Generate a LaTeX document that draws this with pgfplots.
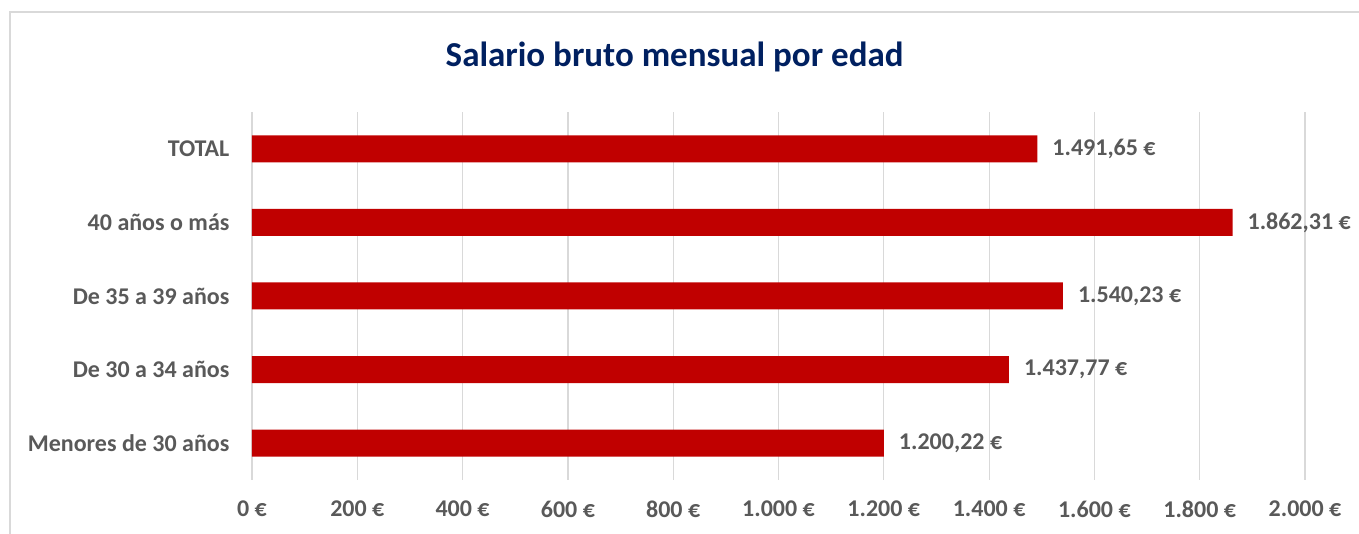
\documentclass[border=0pt]{standalone}
\usepackage{fontspec}
\setmainfont{Carlito}
\usepackage{pgfplots}
\pgfplotsset{compat=1.18}
\definecolor{barred}{HTML}{C00000}
\definecolor{lblgray}{HTML}{595959}
\definecolor{titleblue}{HTML}{002060}
\definecolor{gridgray}{HTML}{D9D9D9}

\begin{document}
\begin{tikzpicture}
\useasboundingbox (0,0) rectangle (679.5pt,267pt);
% chart frame (cut at right and bottom in the reference)
\draw[gridgray, line width=0.6pt] (5pt,0) -- (5pt,261pt) -- (679.5pt,261pt);
\node[font=\bfseries\fontsize{17.5}{21}\selectfont, text=titleblue] at (337.3pt,238.5pt) {Salario bruto mensual por edad};
\begin{axis}[
  scale only axis,
  width=526.5pt, height=184pt,
  at={(126pt,27pt)}, anchor=south west,
  xbar, bar width=13.5pt,
  xmin=0, xmax=2000,
  ymin=-0.5, ymax=4.5,
  xtick={0,200,...,2000},
  ytick={0,1,2,3,4},
  yticklabels={Menores de 30 años, De 30 a 34 años, De 35 a 39 años, 40 años o más, TOTAL},
  /pgf/number format/assume math mode=true,
  /pgf/number format/1000 sep={.},
  xticklabel={\pgfmathprintnumber{\tick}~€},
  ticklabel style={font=\bfseries\fontsize{12}{14}\selectfont, text=lblgray},
  xticklabel style={yshift=-7pt},
  yticklabel style={xshift=-3.5pt},
  axis line style={draw=none},
  major tick style={draw=none},
  xmajorgrids, major grid style={gridgray, line width=0.6pt},
  nodes near coords={\pgfmathprintnumber[fixed,fixed zerofill,precision=2,use comma,1000 sep={.}]{\pgfplotspointmeta}~€},
  every node near coord/.append style={font=\bfseries\fontsize{12}{14}\selectfont, text=lblgray, anchor=west, xshift=4pt},
  clip=false,
]
\addplot[fill=barred, draw=none] coordinates {
  (1200.22,0) (1437.77,1) (1540.23,2) (1862.31,3) (1491.65,4)
};
\end{axis}
\end{tikzpicture}
\end{document}
